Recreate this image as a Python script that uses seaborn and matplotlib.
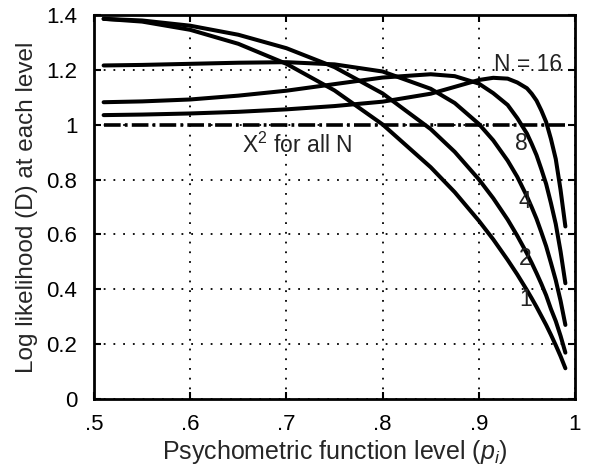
import matplotlib
matplotlib.use("Agg")
import matplotlib.pyplot as plt
import seaborn as sns
import pandas as pd

# ---- data ----
p_levels = [0.51, 0.55, 0.60, 0.65, 0.70, 0.75, 0.80, 0.85, 0.875, 0.90, 0.915,
            0.93, 0.94, 0.95, 0.955, 0.96, 0.965, 0.97, 0.975, 0.98, 0.985, 0.99]
D_N1 = [1.386, 1.376, 1.346, 1.295, 1.222, 1.125, 1.001, 0.845, 0.754, 0.650, 0.582,
        0.507, 0.454, 0.397, 0.367, 0.336, 0.303, 0.270, 0.234, 0.196, 0.156, 0.112]
D_N2 = [1.386, 1.380, 1.361, 1.328, 1.279, 1.210, 1.114, 0.984, 0.901, 0.801, 0.732,
        0.654, 0.595, 0.531, 0.496, 0.459, 0.420, 0.378, 0.328, 0.284, 0.230, 0.169]
D_N4 = [1.216, 1.218, 1.222, 1.226, 1.228, 1.220, 1.194, 1.131, 1.079, 1.003, 0.943,
        0.869, 0.810, 0.739, 0.699, 0.657, 0.608, 0.557, 0.496, 0.433, 0.358, 0.270]
D_N8 = [1.082, 1.085, 1.092, 1.106, 1.124, 1.148, 1.172, 1.184, 1.177, 1.150, 1.115,
        1.072, 1.024, 0.968, 0.930, 0.889, 0.838, 0.784, 0.714, 0.638, 0.538, 0.422]
D_N16 = [1.035, 1.037, 1.041, 1.047, 1.056, 1.068, 1.084, 1.113, 1.138, 1.163, 1.171,
         1.168, 1.154, 1.133, 1.113, 1.088, 1.052, 1.010, 0.948, 0.875, 0.762, 0.629]
chi2_level = 1.0

N_values = [1, 2, 4, 8, 16]
curve_labels = ["1", "2", "4", "8", "N = 16"]
x_ticks = [0.5, 0.6, 0.7, 0.8, 0.9, 1.0]
x_ticklabels = [".5", ".6", ".7", ".8", ".9", "1"]
y_ticks = [0, 0.2, 0.4, 0.6, 0.8, 1.0, 1.2, 1.4]
y_ticklabels = ["0", "0.2", "0.4", "0.6", "0.8", "1", "1.2", "1.4"]

series = {1: D_N1, 2: D_N2, 4: D_N4, 8: D_N8, 16: D_N16}
df = pd.DataFrame([(p, d, n) for n in N_values for p, d in zip(p_levels, series[n])],
                  columns=["p", "D", "N"])

# ---- style ----
sns.set_style("white")
plt.rcParams["font.family"] = ["Liberation Sans", "DejaVu Sans"]
plt.rcParams["mathtext.fontset"] = "custom"
plt.rcParams["mathtext.rm"] = "Liberation Sans"
plt.rcParams["mathtext.it"] = "Liberation Sans:italic"
plt.rcParams["lines.scale_dashes"] = False

fig = plt.figure(figsize=(5.9, 4.71), dpi=100)
ax = fig.add_axes([94 / 590, 72 / 471, 481 / 590, 384 / 471])

sns.lineplot(data=df, x="p", y="D", units="N", estimator=None, color="black",
             linewidth=2.9, legend=False, ax=ax, sort=False,
             solid_joinstyle="round", solid_capstyle="round")
sns.lineplot(x=[p_levels[0], p_levels[-1]], y=[chi2_level, chi2_level], color="black",
             linewidth=2.6, linestyle=(0, (12, 3, 2, 3)), ax=ax)

ax.set_xlim(0.5, 1.0)
ax.set_ylim(0, 1.4)
ax.set_xticks(x_ticks)
ax.set_xticklabels(x_ticklabels)
ax.set_yticks(y_ticks)
ax.set_yticklabels(y_ticklabels)
ax.grid(True, color="black", linestyle=(0, (1.3, 5.7)), linewidth=1.3)
ax.set_axisbelow(True)
for s in ax.spines.values():
    s.set_visible(True)
    s.set_color("black")
    s.set_linewidth(2.0)
ax.tick_params(axis="both", which="both", direction="in", length=5, width=1.5,
               top=True, right=True, bottom=True, left=True, labelsize=16,
               colors="black")
ax.tick_params(axis="x", pad=11)
ax.tick_params(axis="y", pad=12)

ax.set_xlabel("Psychometric function level ($p_i$)", fontsize=18, labelpad=2)
ax.set_ylabel("Log likelihood (D) at each level", fontsize=17.5, labelpad=6)

# ---- curve labels ----
label_pos = {"1": (0.949, 0.361), "2": (0.948, 0.511), "4": (0.948, 0.719),
             "8": (0.944, 0.930), "N = 16": (0.951, 1.219)}
for lab in curve_labels:
    x, y = label_pos[lab]
    ax.text(x, y, lab, fontsize=16.5, ha="center", va="center", color="#222222")
ax.text(0.711, 0.898, "X$^2$ for all N", fontsize=16.5, ha="center", va="baseline",
        color="#222222")

fig.savefig("out.png", dpi=100)
